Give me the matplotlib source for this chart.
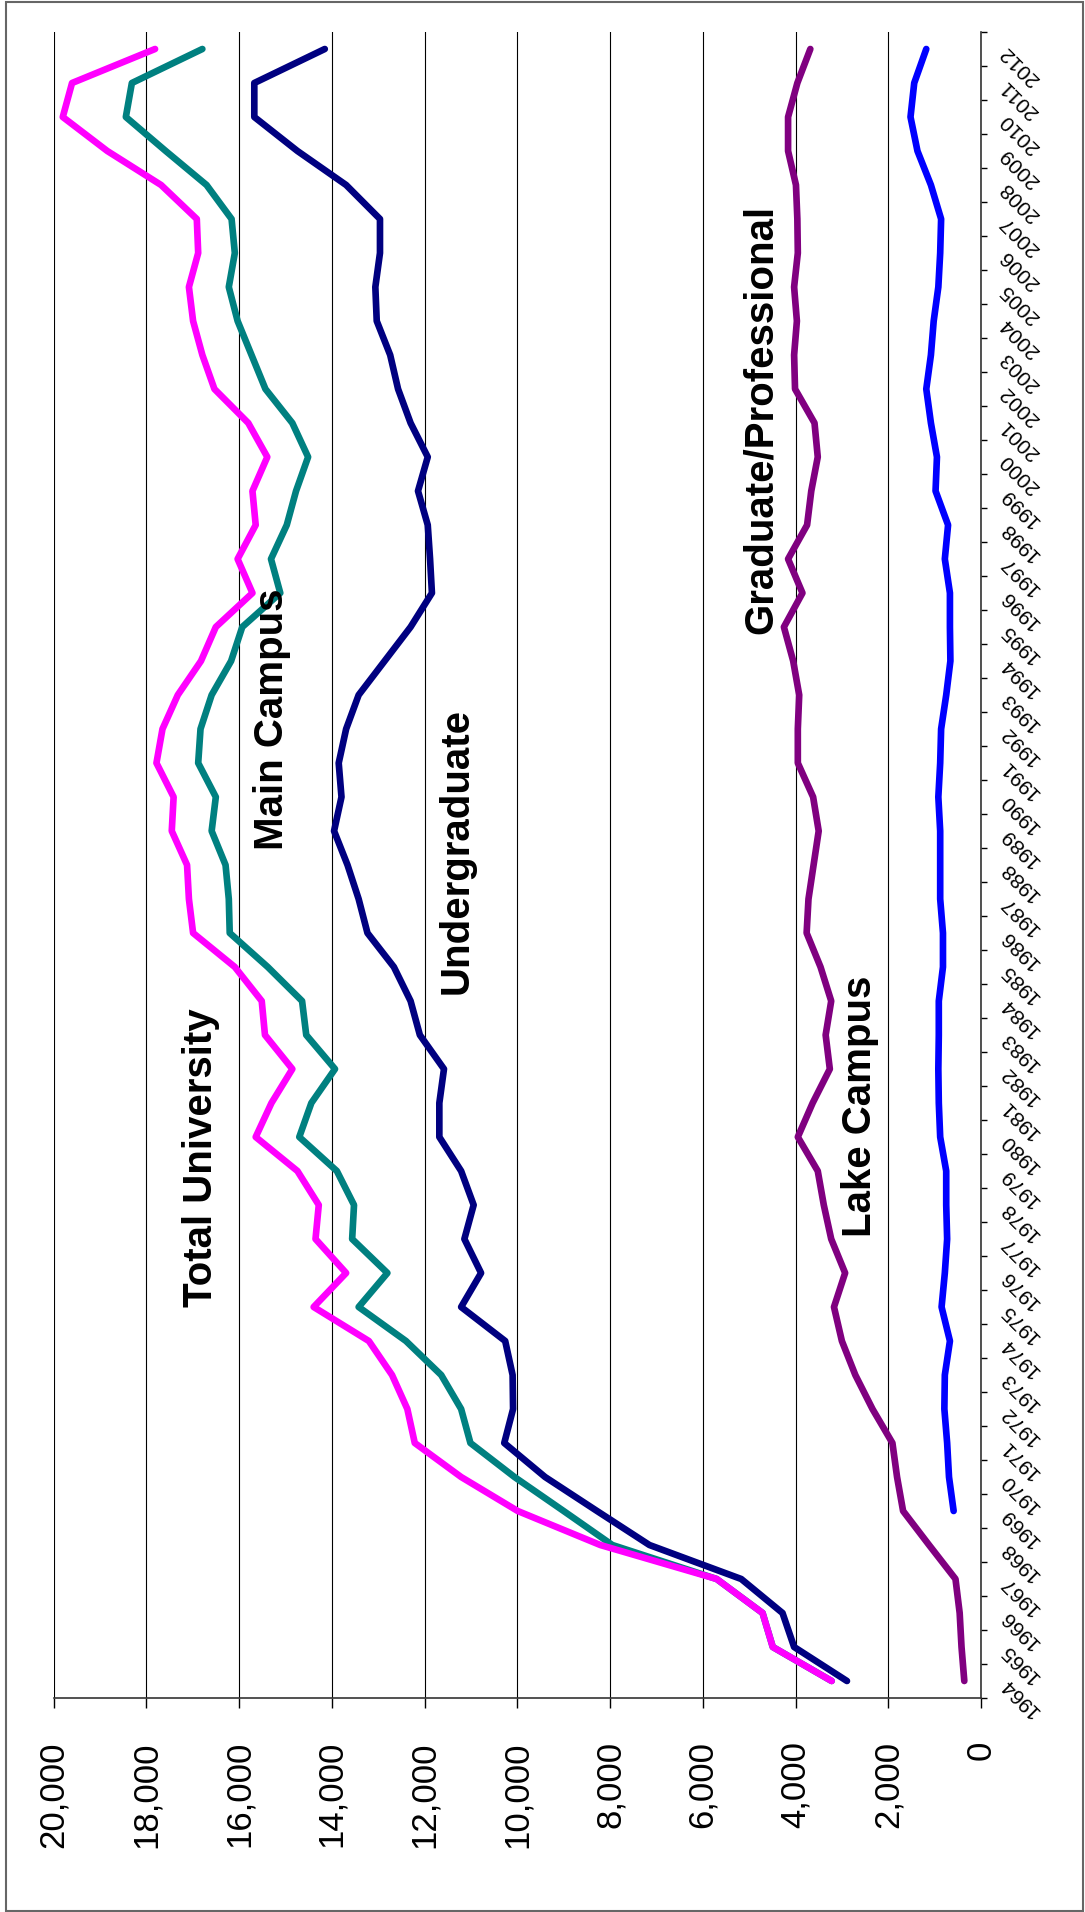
import matplotlib
matplotlib.use("Agg")
import matplotlib.pyplot as plt
import matplotlib.ticker as mticker
from matplotlib.patches import Rectangle
import numpy as np

plt.rcParams['font.family'] = ['Liberation Sans', 'DejaVu Sans']

years = list(range(1964, 2013))

total_university = [
    3220, 4490, 4710, 5700, 8210, 9990, 11210, 12210, 12370, 12700,
    13200, 14390, 13690, 14350, 14280, 14740, 15640, 15300, 14850, 15440,
    15510, 16090, 16990, 17080, 17120, 17450, 17410, 17780, 17650, 17320,
    16820, 16500, 15710, 16030, 15640, 15710, 15390, 15800, 16530, 16790,
    16990, 17080, 16880, 16910, 17680, 18840, 19800, 19600, 17810]

main_campus = [
    3220, 4490, 4710, 5700, 7950, 9000, 10060, 11010, 11210, 11640,
    12400, 13420, 12800, 13560, 13520, 13890, 14700, 14440, 13930, 14550,
    14640, 15380, 16200, 16220, 16290, 16590, 16500, 16880, 16830, 16590,
    16170, 15930, 15110, 15310, 14970, 14770, 14510, 14850, 15430, 15730,
    16030, 16220, 16090, 16160, 16700, 17580, 18440, 18310, 16790]

undergraduate = [
    2890, 4030, 4280, 5170, 7150, 8280, 9400, 10280, 10090, 10100,
    10260, 11210, 10780, 11140, 10940, 11210, 11680, 11680, 11580, 12100,
    12300, 12660, 13230, 13420, 13660, 13950, 13790, 13850, 13690, 13420,
    12860, 12300, 11840, 11880, 11930, 12140, 11930, 12300, 12570, 12740,
    13030, 13060, 12960, 12960, 13690, 14740, 15670, 15670, 14150]

graduate_professional = [
    360, 420, 460, 550, 1120, 1680, 1810, 1910, 2340, 2710,
    3000, 3170, 2930, 3230, 3390, 3520, 3950, 3630, 3260, 3350,
    3230, 3460, 3760, 3720, 3610, 3500, 3620, 3950, 3950, 3920,
    4050, 4250, 3850, 4160, 3750, 3660, 3520, 3590, 4010, 4030,
    3970, 4030, 3950, 3960, 3990, 4160, 4160, 3960, 3680]

lake_campus = [
    np.nan, np.nan, np.nan, np.nan, np.nan, 590, 690, 730, 790, 780,
    670, 850, 780, 730, 750, 750, 880, 910, 920, 910,
    910, 820, 820, 880, 880, 880, 920, 880, 860, 750,
    660, 670, 670, 780, 710, 980, 950, 1080, 1180, 1080,
    1020, 920, 880, 860, 1080, 1370, 1520, 1440, 1180]

value_ticks = list(range(0, 20001, 2000))

# series label text, anchored in data space (value, year)
series_labels = [
    ("Total University", 16830, 1979.4),
    ("Main Campus", 15280, 1992.3),
    ("Undergraduate", 11315, 1988.4),
    ("Graduate/Professional", 4740, 2001.1),
    ("Lake Campus", 2610, 1980.9),
]

W, H = 1085, 1912
fig = plt.figure(figsize=(W / 100, H / 100), dpi=100)
ax = fig.add_axes([53.5 / W, 1 - 1698 / H, (981 - 53.5) / W, (1698 - 32) / H])

lw = 4.8
ax.plot(lake_campus, years, color='#0000FF', lw=lw, solid_capstyle='round', solid_joinstyle='round')
ax.plot(graduate_professional, years, color='#800080', lw=lw, solid_capstyle='round', solid_joinstyle='round')
ax.plot(undergraduate, years, color='#000080', lw=lw, solid_capstyle='round', solid_joinstyle='round')
ax.plot(main_campus, years, color='#008080', lw=lw, solid_capstyle='round', solid_joinstyle='round')
ax.plot(total_university, years, color='#FF00FF', lw=lw, solid_capstyle='round', solid_joinstyle='round')

ax.set_xlim(20000, 0)
ax.set_ylim(years[0] - 0.5, years[-1] + 0.5)

# value axis (bottom)
ax.set_xticks(value_ticks)
ax.xaxis.set_major_formatter(mticker.FuncFormatter(lambda v, p: f"{int(v):,}"))
ax.tick_params(axis='x', direction='out', length=7, width=1, pad=24, labelsize=25)
for lbl in ax.get_xticklabels():
    lbl.set_rotation(90)
    lbl.set_rotation_mode('anchor')
    lbl.set_ha('right')
    lbl.set_va('center')
ax.grid(axis='x', color='black', lw=0.8)

# category axis (right)
ax.yaxis.tick_right()
ax.set_yticks(years)
ax.set_yticklabels([str(y) for y in years])
ax.set_yticks([y - 0.5 for y in years] + [years[-1] + 0.5], minor=True)
ax.tick_params(axis='y', which='major', length=0, pad=16, labelsize=15)
ax.tick_params(axis='y', which='minor', direction='out', length=4.5, width=1)
for lbl in ax.get_yticklabels():
    lbl.set_rotation(135)
    lbl.set_rotation_mode('anchor')
    lbl.set_ha('right')
    lbl.set_va('center')

for side in ('top', 'left'):
    ax.spines[side].set_visible(False)
for side in ('bottom', 'right'):
    ax.spines[side].set_color('#333333')
    ax.spines[side].set_linewidth(1.2)

for text, v, yr in series_labels:
    ax.text(v, yr, text, rotation=90, ha='center', va='center',
            fontsize=29, fontweight='bold', color='black')

fig.add_artist(Rectangle((6 / W, 1 / H), (1083 - 6) / W, (1910 - 1) / H,
                         transform=fig.transFigure, fill=False,
                         edgecolor='#666666', lw=1.5))

fig.savefig('out.png', dpi=100)
